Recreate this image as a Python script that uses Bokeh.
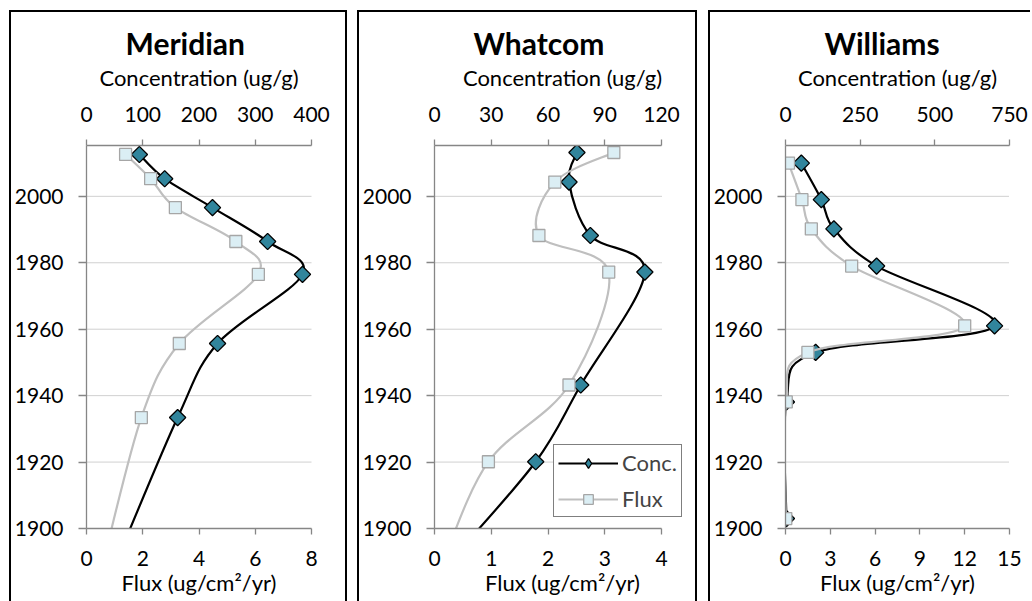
import math
from bokeh.plotting import figure
from bokeh.models import Range1d, LinearAxis, FixedTicker, Legend, LegendItem
from bokeh.layouts import row
from bokeh.embed import file_html
from bokeh.resources import INLINE

# ---------------- data ----------------
site_names = ["Meridian", "Whatcom", "Williams"]

meridian_years = [2012.6, 2005.3, 1996.6, 1986.4, 1976.5, 1955.7, 1933.4, 1890.0]
meridian_conc = [94, 139, 224, 322, 384, 233, 162, 53]
meridian_flux = [1.39, 2.28, 3.16, 5.31, 6.11, 3.30, 1.95, 0.60]

whatcom_years = [2013.2, 2004.3, 1988.2, 1977.2, 1943.2, 1920.1, 1890.0]
whatcom_conc = [75.3, 71.1, 82.4, 111.2, 77.3, 53.5, 8.0]
whatcom_flux = [3.16, 2.12, 1.84, 3.07, 2.37, 0.95, 0.15]

williams_years = [2010.0, 1999.0, 1990.2, 1979.0, 1961.0, 1953.0, 1938.1, 1903.0]
williams_conc = [53, 120, 162, 305, 700, 101, 3, 3]
williams_flux = [0.20, 1.10, 1.73, 4.43, 12.0, 1.50, 0.05, 0.02]

year_ticks = [1900, 1920, 1940, 1960, 1980, 2000]
meridian_conc_ticks = [0, 100, 200, 300, 400]
meridian_flux_ticks = [0, 2, 4, 6, 8]
whatcom_conc_ticks = [0, 30, 60, 90, 120]
whatcom_flux_ticks = [0, 1, 2, 3, 4]
williams_conc_ticks = [0, 250, 500, 750]
williams_flux_ticks = [0, 3, 6, 9, 12, 15]

FONT = "Lato"
AXIS_GRAY = "#868686"
TEAL = "#31859C"
PALE = "#DBEEF4"
SQ_EDGE = "#A6A6A6"
FLUX_LINE = "#BFBFBF"
NAN = float("nan")


def smooth(xs, ys):
    """Cubic Bezier segments through the points (Catmull-Rom style smoothing)."""
    n = len(xs)
    out = {k: [] for k in ["x0", "y0", "x1", "y1", "cx0", "cy0", "cx1", "cy1"]}
    for i in range(n - 1):
        a = max(i - 1, 0)
        d = min(i + 2, n - 1)
        out["x0"].append(xs[i]); out["y0"].append(ys[i])
        out["x1"].append(xs[i + 1]); out["y1"].append(ys[i + 1])
        out["cx0"].append(xs[i] + (xs[i + 1] - xs[a]) / 6.0)
        out["cy0"].append(ys[i] + (ys[i + 1] - ys[a]) / 6.0)
        out["cx1"].append(xs[i + 1] - (xs[d] - xs[i]) / 6.0)
        out["cy1"].append(ys[i + 1] - (ys[d] - ys[i]) / 6.0)
    return out


def style_axis(ax):
    ax.axis_line_color = AXIS_GRAY
    ax.axis_line_width = 1.3
    ax.major_tick_line_color = AXIS_GRAY
    ax.major_tick_line_width = 1.3
    ax.minor_tick_line_color = None
    ax.major_tick_in = 0
    ax.major_tick_out = 6
    ax.major_label_text_font = FONT
    ax.major_label_text_font_size = "21px"
    ax.major_label_text_color = "black"
    ax.axis_label_text_font = FONT
    ax.axis_label_text_font_size = "22px"
    ax.axis_label_text_font_style = "normal"
    ax.axis_label_text_color = "black"


def panel(name, years, conc, flux, conc_ticks, flux_ticks, width, left, right,
          margin, borders, extend=1.0, legend=False):
    conc_max = conc_ticks[-1]
    flux_max = flux_ticks[-1]
    p = figure(width=width, height=591, output_backend="svg", toolbar_location=None,
               x_range=Range1d(0, flux_max * extend), y_range=Range1d(1900, 2015.3),
               min_border_left=left, min_border_right=right,
               min_border_top=133, min_border_bottom=75,
               x_axis_location=None, y_axis_location=None, margin=margin)
    p.extra_x_ranges = {"conc": Range1d(0, conc_max * extend)}
    p.outline_line_color = None
    p.background_fill_color = "white"
    p.border_fill_color = "white"
    p.styles = borders
    p.xgrid.visible = False
    p.ygrid.visible = False

    p.title.text = name
    p.title.text_font = FONT
    p.title.text_font_size = "30px"
    p.title.text_font_style = "bold"
    p.title.text_color = "black"
    p.title.align = "left"
    p.title.offset = 39
    p.title.standoff = 0

    top = LinearAxis(x_range_name="conc", axis_label="Concentration (ug/g)",
                     ticker=FixedTicker(ticks=conc_ticks), bounds=(0, conc_max))
    style_axis(top)
    top.major_label_standoff = 18
    top.axis_label_standoff = 13
    p.add_layout(top, "above")

    bottom = LinearAxis(axis_label="Flux (ug/cm\u00b2/yr)", ticker=FixedTicker(ticks=flux_ticks),
                        bounds=(0, flux_max))
    style_axis(bottom)
    bottom.major_label_standoff = 16
    bottom.axis_label_standoff = 0
    p.add_layout(bottom, "below")

    yax = LinearAxis(ticker=FixedTicker(ticks=year_ticks))
    style_axis(yax)
    yax.major_tick_out = 8
    yax.major_label_standoff = 15
    p.add_layout(yax, "left")

    # horizontal dotted gridlines, limited to the axis extent
    gy = year_ticks[1:]
    p.segment(x0=[0] * len(gy), x1=[flux_max] * len(gy), y0=gy, y1=gy,
              line_color="#A0A0A0", line_dash="1 1", line_width=1)

    cs = smooth(conc, years)
    fs = smooth(flux, years)
    p.bezier(x0="x0", y0="y0", x1="x1", y1="y1", cx0="cx0", cy0="cy0", cx1="cx1", cy1="cy1",
             source=cs, x_range_name="conc", line_color="black", line_width=2.2)
    p.scatter(conc, years, x_range_name="conc", marker="square", angle=math.pi / 4,
              size=11.5, fill_color=TEAL, line_color="black", line_width=1.3)
    p.bezier(x0="x0", y0="y0", x1="x1", y1="y1", cx0="cx0", cy0="cy0", cx1="cx1", cy1="cy1",
             source=fs, line_color=FLUX_LINE, line_width=2.2)
    s = p.scatter(flux, years, marker="square", size=12,
                  fill_color=PALE, line_color=SQ_EDGE, line_width=1.3)

    if legend:
        lc = p.line([NAN], [NAN], line_color="black", line_width=2.2)
        ld = p.scatter([NAN], [NAN], marker="diamond", size=17,
                       fill_color=TEAL, line_color="black", line_width=1.3)
        lf = p.line([NAN], [NAN], line_color=FLUX_LINE, line_width=2.2)
        leg = Legend(items=[LegendItem(label="Conc.", renderers=[lc, ld]),
                            LegendItem(label="Flux", renderers=[lf, s])],
                     location=(119, 11), orientation="vertical")
        leg.border_line_color = "black"
        leg.border_line_width = 1.5
        leg.background_fill_color = "white"
        leg.background_fill_alpha = 1
        leg.label_text_font = FONT
        leg.label_text_font_size = "22px"
        leg.glyph_width = 60
        leg.glyph_height = 24
        leg.label_height = 24
        leg.label_standoff = 4
        leg.spacing = 9
        leg.padding = 4
        leg.margin = 0
        p.add_layout(leg, "center")
    return p


b_full = {"border-left": "2px solid black", "border-top": "2px solid black",
          "border-right": "2px solid black", "box-sizing": "border-box"}
b_open = {"border-left": "2px solid black", "border-top": "2px solid black",
          "box-sizing": "border-box"}

p1 = panel(site_names[0], meridian_years, meridian_conc, meridian_flux,
           meridian_conc_ticks, meridian_flux_ticks, 338, 74, 38, (10, 0, 0, 9), b_full)
p2 = panel(site_names[1], whatcom_years, whatcom_conc, whatcom_flux,
           whatcom_conc_ticks, whatcom_flux_ticks, 340, 75, 9, (10, 0, 0, 10), b_full,
           extend=256 / 227, legend=True)
p3 = panel(site_names[2], williams_years, williams_conc, williams_flux,
           williams_conc_ticks, williams_flux_ticks, 322, 74, 23, (10, 0, 0, 11), b_open)

layout = row(p1, p2, p3)
open("out.html", "w").write(file_html(layout, INLINE))
